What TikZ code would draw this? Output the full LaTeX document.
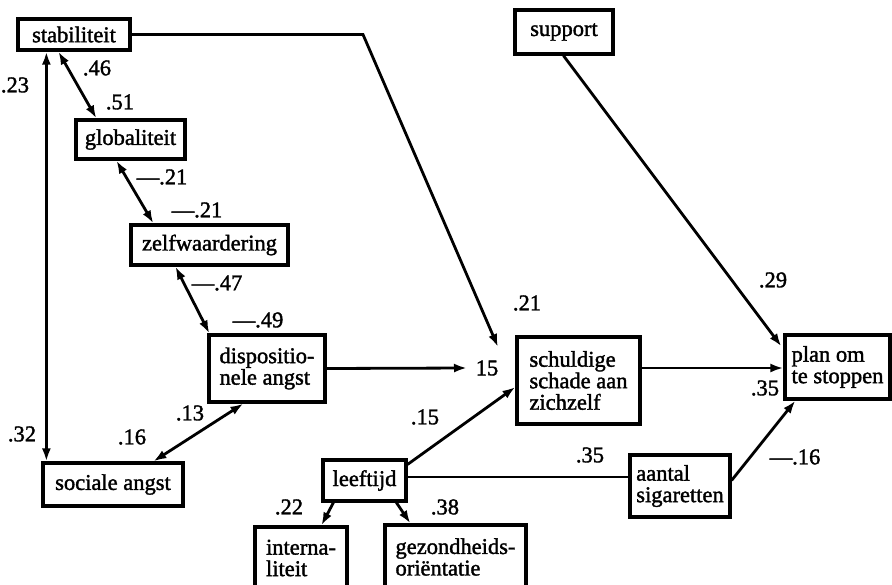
\documentclass[tikz,border=0pt]{standalone}
\usepackage{fontspec}
\setmainfont{Liberation Serif}[FakeBold=1.6]
\usetikzlibrary{arrows.meta}
\begin{document}
\begin{tikzpicture}[x=1pt,y=-1pt,
  box/.style={draw, line width=3.2pt, align=left, inner sep=0pt,
    font=\fontsize{22.5}{21.5}\selectfont},
  lbl/.style={inner sep=0pt, font=\fontsize{22.5}{21.5}\selectfont},
  link/.style={line width=2.8pt},
  arr/.style={link, -{Latex[length=13pt,width=9pt]}},
  dbl/.style={link, {Latex[length=13pt,width=9pt]}-{Latex[length=13pt,width=9pt]}},
]
\useasboundingbox (0,0) rectangle (892,584);
\clip (0,0) rectangle (892,584);

% variables
\node[box, minimum width=112pt, minimum height=31pt] (stab)   at (74,34.5)   {stabiliteit};
\node[box, minimum width=109pt, minimum height=39pt] (glob)   at (130.5,139.5) {globaliteit};
\node[box, minimum width=157pt, minimum height=40pt] (zelf)   at (209.5,245) {zelfwaardering};
\node[box, minimum width=116pt, minimum height=67pt] (disp)   at (267,368.5) {dispositio-\\nele angst};
\node[box, minimum width=140pt, minimum height=43pt] (soc)    at (113,484.5) {sociale angst};
\node[box, minimum width=83pt,  minimum height=41pt] (leef)   at (364.5,480.5) {leeftijd};
\node[box, minimum width=92pt,  minimum height=62pt] (intern) at (301,558)   {interna-\\liteit};
\node[box, minimum width=141pt, minimum height=64pt] (gez)    at (455.5,557) {gezondheids-\\oriëntatie};
\node[box, minimum width=123pt, minimum height=87pt] (schuld) at (578.5,380.5) {schuldige\\schade aan\\zichzelf};
\node[box, minimum width=98pt,  minimum height=44pt] (supp)   at (564,32)    {support};
\node[box, minimum width=105pt, minimum height=64pt] (plan)   at (837.5,367) {plan om\\te stoppen};
\node[box, minimum width=100pt, minimum height=62pt] (aant)   at (680,486)   {aantal\\sigaretten};

% free ends of the paths that stop at the coefficient 15
\coordinate (bend) at (363,34.5);
\coordinate (tipA) at (498,347);
\coordinate (tipB) at (467,368);

% correlations
\draw[dbl] ([xshift=30pt]stab.south west) -- ([xshift=5pt]soc.north west);
\draw[dbl] ([xshift=42pt]stab.south west) -- ([xshift=22pt]glob.north west);
\draw[dbl] ([xshift=42pt]glob.south west) -- ([xshift=24pt]zelf.north west);
\draw[dbl] ([xshift=46pt]zelf.south west) -- ([xshift=2pt]disp.north west);
\draw[dbl] ([xshift=36pt]disp.south west) -- ([xshift=112pt]soc.north west);

% paths
\draw[arr] (stab.east) -- (bend) -- (tipA);
\draw[arr] (disp.east) -- (tipB);
\draw[arr] ([yshift=-6pt]leef.north east) -- ([yshift=-6.5pt]schuld.west);
\draw[link] ([yshift=3.5pt]leef.east) -- ([yshift=9pt]aant.west);
\draw[arr] ([xshift=12pt]leef.south west) -- ([xshift=68pt]intern.north west);
\draw[arr] ([xshift=75pt]leef.south west) -- ([xshift=27pt]gez.north west);
\draw[arr] ([yshift=12.5pt]schuld.east) -- ([yshift=-1pt]plan.west);
\draw[arr] ([xshift=50pt]supp.south west) -- ([xshift=-2pt,yshift=-13pt]plan.north west);
\draw[arr] ([yshift=-27pt]aant.north east) -- ([xshift=12pt]plan.south west);

% coefficients
\node[lbl] (c23)  at (15,85)   {.23};
\node[lbl] (c46)  at (97,68)   {.46};
\node[lbl] (c51)  at (120,102) {.51};
\node[lbl] (c21a) at (162,177) {\textemdash.21};
\node[lbl] (c21b) at (197,210) {\textemdash.21};
\node[lbl] (c47)  at (217,283) {\textemdash.47};
\node[lbl] (c49)  at (258,320) {\textemdash.49};
\node[lbl] (c32)  at (22,434)  {.32};
\node[lbl] (c16)  at (132,437) {.16};
\node[lbl] (c13)  at (190,413) {.13};
\node[lbl] (c15a) at (425,417) {.15};
\node[lbl] (n15)  at (487,368) {15};
\node[lbl] (c21c) at (527,303) {.21};
\node[lbl] (c29)  at (773,280) {.29};
\node[lbl] (c35a) at (765,388) {.35};
\node[lbl] (c35b) at (590,455) {.35};
\node[lbl] (c16b) at (795,457) {\textemdash.16};
\node[lbl] (c22)  at (289,507) {.22};
\node[lbl] (c38)  at (445,507) {.38};
\end{tikzpicture}
\end{document}
